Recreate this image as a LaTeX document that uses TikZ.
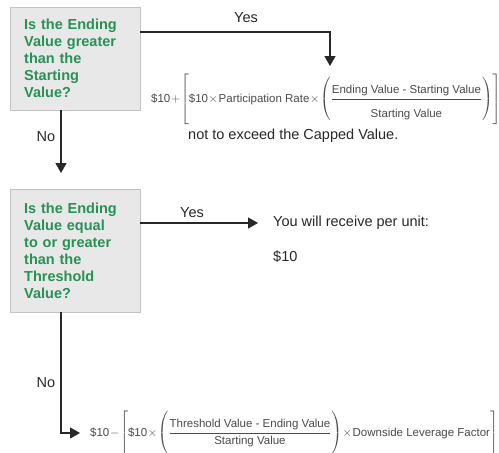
\documentclass[tikz,border=0pt]{standalone}
\usepackage{amsmath}
\usepackage{fontspec}
\setmainfont{Liberation Sans}
\usetikzlibrary{arrows.meta, positioning, calc}
\definecolor{cQ}{RGB}{40,145,85}
\definecolor{cBox}{RGB}{232,232,232}
\definecolor{cEdge}{RGB}{195,195,195}
\definecolor{cTxt}{RGB}{40,40,40}
\definecolor{cMath}{RGB}{75,75,75}
\tikzstyle{Question}=[rectangle,
		draw=cEdge,
		fill=cBox,
		text=cQ,
		font=\fontsize{14.5}{17}\selectfont\bfseries,
		align=left,
		anchor=north west,
		text width=102pt,
		inner xsep=14pt,
		minimum width=130pt]
\tikzstyle{Answer}=[anchor=west,
		inner sep=0pt,
		text=cTxt,
		font=\fontsize{14.5}{17}\selectfont]
\tikzstyle{Payoff}=[anchor=base west,
		inner sep=0pt,
		text=cMath,
		font=\fontsize{11.5}{14}\selectfont]
\tikzstyle{Label}=[inner sep=0pt,
		text=cTxt,
		font=\fontsize{14.5}{17}\selectfont]
\tikzstyle{arrow}=[-{Triangle[width=11pt,length=10pt]},line width=1.3pt,draw=cTxt]
\newcommand{\tall}[2]{\rule[-#1pt]{0pt}{#2pt}}
\newcommand{\tightops}{\medmuskip=1mu\relax}

\begin{document}
\begin{tikzpicture}[x=1pt,y=-1pt]
  \path[use as bounding box,fill=white] (0,0) rectangle (499,453);

  \node [Question,minimum height=103pt] (q1) at (10,7) {Is the Ending\\Value greater\\than the\\Starting\\Value?};
  \node [Question,minimum height=123pt] (q2) at (10,189) {Is the Ending\\Value equal\\to or greater\\than the\\Threshold\\Value?};

  % payoff nodes
  \node [Payoff] (f1) at (151,102) {$\tightops\text{\$10}+\left[\tall{21}{48}\text{\$10}\times\text{Participation Rate}\times\left(\tall{20.5}{47}\dfrac{\text{Ending Value - Starting Value}}{\tall{0}{17}\text{Starting Value}}\right)\right]$};
  \node [Answer] (cap) at (188,136) {not to exceed the Capped Value.};
  \node [Answer] (recv) at (273,223) {You will receive per unit:};
  \node [Answer] (ten) at (273,257) {\$10};
  \node [Payoff] (f2) at (90,436) {$\tightops\text{\$10}-\left[\tall{20.5}{47}\text{\$10}\times\left(\tall{19.5}{44}\dfrac{\text{Threshold Value - Ending Value}}{\text{Starting Value}}\right)\times\text{Downside Leverage Factor}\right]$};

  \node [Label] (yes1) at (246,18) {Yes};
  \node [Label] (no1) at (46,137) {No};
  \node [Label] (yes2) at (192,213) {Yes};
  \node [Label] (no2) at (46,383) {No};

  % add decision arrows
  \coordinate (f1in) at (330,66);
  \draw [arrow] ([yshift=-25pt]q1.north east) -| (f1in);
  \draw [arrow] ([xshift=51pt]q1.south west) -- ([xshift=51pt,yshift=16pt]q2.north west);
  \draw [arrow,shorten >=15pt] (q2.east |- recv.west) -- (recv.west);
  \draw [arrow,shorten >=10pt] ([xshift=51pt]q2.south west) |- (f2.west);

\end{tikzpicture}
\end{document}
